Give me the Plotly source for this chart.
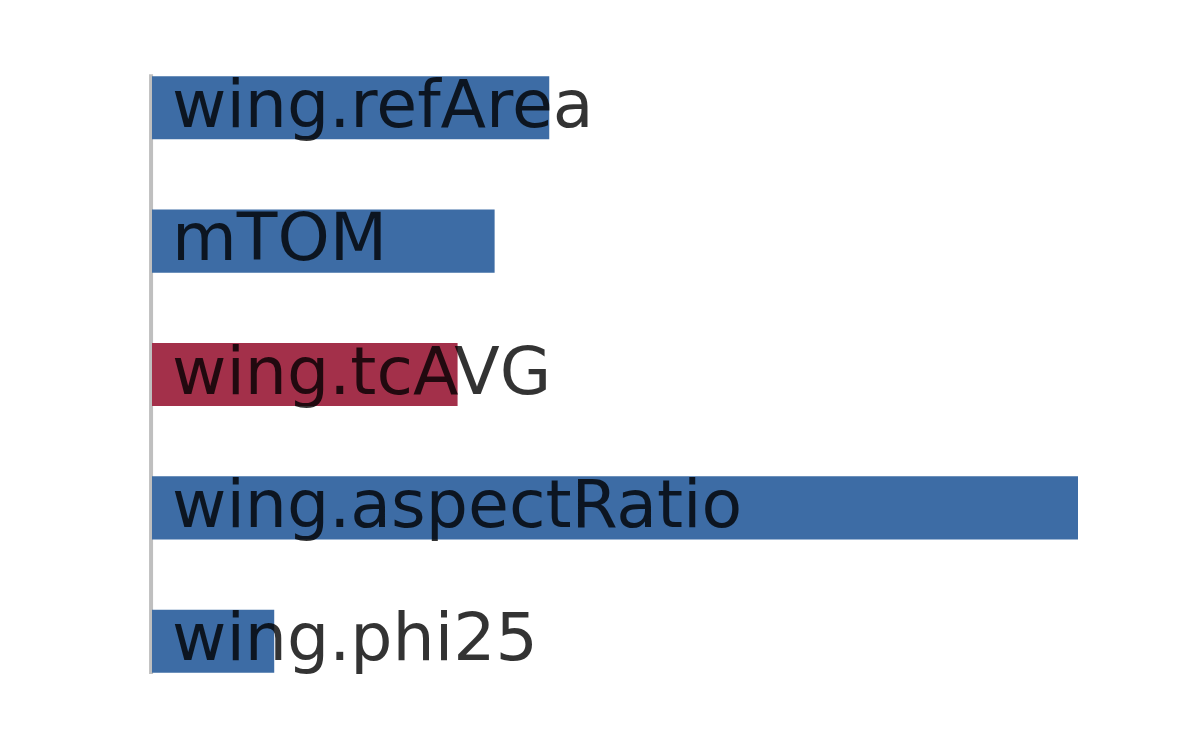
import plotly.graph_objects as go

categories = ["wing.refArea", "mTOM", "wing.tcAVG", "wing.aspectRatio", "wing.phi25"]
values = [0.429, 0.370, 0.330, 1.0, 0.132]
colors = ["#3d6ca5", "#3d6ca5", "#a3304a", "#3d6ca5", "#3d6ca5"]

ypos = list(range(len(categories)))

fig = go.Figure()
fig.add_trace(go.Bar(
    x=values, y=ypos, orientation="h",
    marker=dict(color=colors, line=dict(width=0)),
    width=0.473, hoverinfo="skip", showlegend=False,
))

for i, name in enumerate(categories):
    fig.add_annotation(
        x=0, y=i, xref="x", yref="y", text=name, showarrow=False,
        xanchor="left", yanchor="middle", xshift=18, yshift=4,
        font=dict(family="DejaVu Sans", size=66.5, color="rgba(0,0,0,0.8)"),
    )

fig.add_shape(type="line", xref="paper", yref="y", x0=-0.001, x1=-0.001,
              y0=-0.25, y1=len(categories) - 1 + 0.245,
              line=dict(color="#bfbfbf", width=4), layer="below")

fig.update_layout(
    width=1200, height=750,
    margin=dict(l=144, r=130, t=33, b=50),
    paper_bgcolor="white", plot_bgcolor="white",
    xaxis=dict(range=[0, 1.0], visible=False, showgrid=False, zeroline=False),
    yaxis=dict(range=[4.5, -0.5], visible=False, showgrid=False, zeroline=False),
)

fig.write_html("out.html")
